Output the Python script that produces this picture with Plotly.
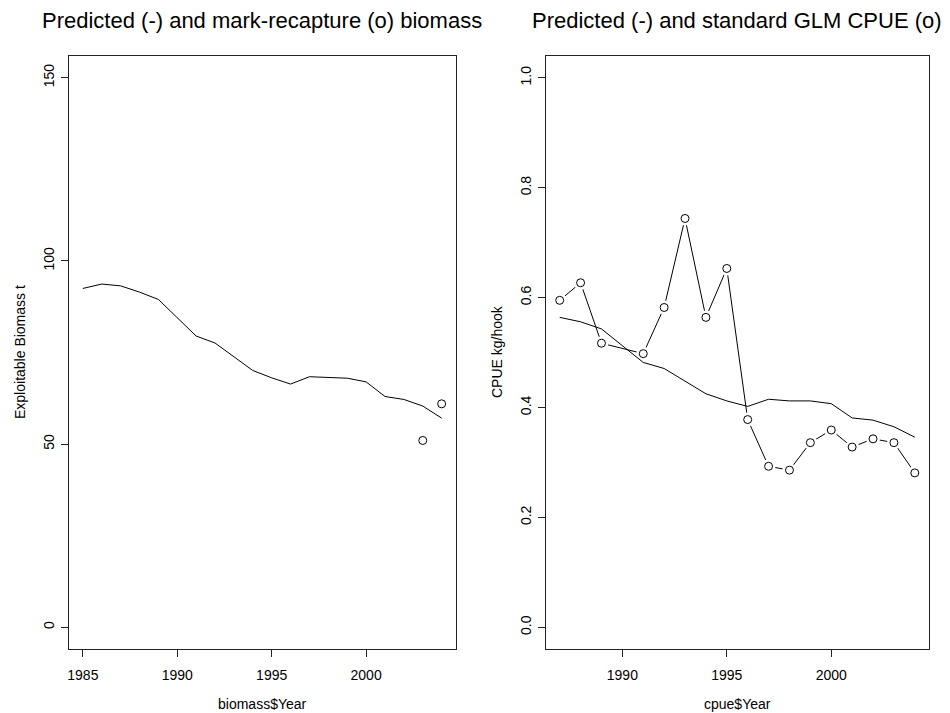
import plotly.graph_objects as go

# ---- data ----
bio_years = list(range(1985, 2005))
bio_pred = [92.5, 93.7, 93.2, 91.5, 89.5, 84.5, 79.5, 77.6, 73.8, 70.1,
            68.1, 66.4, 68.4, 68.1, 68.0, 67.0, 63.0, 62.2, 60.4, 57.1]
mr_years = [2003, 2004]
mr_bio = [51.0, 61.0]

cpue_years = list(range(1987, 2005))
cpue_pred = [0.564, 0.556, 0.543, 0.512, 0.482, 0.471, 0.448, 0.425, 0.412,
             0.402, 0.415, 0.412, 0.412, 0.407, 0.381, 0.377, 0.365, 0.346]
glm_years = [1987, 1988, 1989, 1991, 1992, 1993, 1994, 1995, 1996, 1997,
             1998, 1999, 2000, 2001, 2002, 2003, 2004]
glm_cpue = [0.595, 0.627, 0.517, 0.498, 0.582, 0.744, 0.564, 0.653, 0.378,
            0.293, 0.286, 0.336, 0.359, 0.328, 0.343, 0.336, 0.281]

bio_xticks = [1985, 1990, 1995, 2000]
bio_yticks = [0, 50, 100, 150]
cpue_xticks = [1990, 1995, 2000]
cpue_yticks = [0.0, 0.2, 0.4, 0.6, 0.8, 1.0]
cpue_yticklabels = ["0.0", "0.2", "0.4", "0.6", "0.8", "1.0"]

FONT = "Liberation Sans, Arial, Helvetica, sans-serif"
W, H = 950, 713
L0, L1 = 68.5, 456.0
R0, R1 = 545.5, 929.0

fig = go.Figure()

# left panel
fig.add_trace(go.Scatter(x=bio_years, y=bio_pred, mode="lines",
                         line=dict(color="black", width=1),
                         xaxis="x", yaxis="y", showlegend=False))
fig.add_trace(go.Scatter(x=mr_years, y=mr_bio, mode="markers",
                         marker=dict(symbol="circle-open", size=8,
                                     color="black", line=dict(width=1)),
                         xaxis="x", yaxis="y", showlegend=False))

# right panel
fig.add_trace(go.Scatter(x=glm_years, y=glm_cpue, mode="lines",
                         line=dict(color="black", width=1),
                         xaxis="x2", yaxis="y2", showlegend=False))
fig.add_trace(go.Scatter(x=glm_years, y=glm_cpue, mode="markers",
                         marker=dict(symbol="circle", size=14, color="white",
                                     line=dict(width=0)),
                         xaxis="x2", yaxis="y2", showlegend=False))
fig.add_trace(go.Scatter(x=cpue_years, y=cpue_pred, mode="lines",
                         line=dict(color="black", width=1),
                         xaxis="x2", yaxis="y2", showlegend=False))
fig.add_trace(go.Scatter(x=glm_years, y=glm_cpue, mode="markers",
                         marker=dict(symbol="circle-open", size=8,
                                     color="black", line=dict(width=1)),
                         xaxis="x2", yaxis="y2", showlegend=False))

ydom = [(H - 649.3) / H, (H - 55.8) / H]
axis_common = dict(showline=True, mirror=True, linecolor="#222", linewidth=1,
                   ticks="outside", ticklen=7, tickcolor="#222",
                   showgrid=False, zeroline=False,
                   tickfont=dict(family=FONT, size=14, color="black"))

fig.update_layout(
    width=W, height=H,
    margin=dict(l=0, r=0, t=0, b=0),
    paper_bgcolor="white", plot_bgcolor="white",
    font=dict(family=FONT, color="black"),
    xaxis=dict(domain=[L0 / W, L1 / W], range=[1984.24, 2004.76],
               tickvals=bio_xticks, anchor="y", ticklabelstandoff=6, **axis_common),
    yaxis=dict(domain=ydom, range=[-6, 156], tickvals=bio_yticks,
               tickangle=-90, anchor="x", ticklabelstandoff=1, **axis_common),
    xaxis2=dict(domain=[R0 / W, R1 / W], range=[1986.32, 2004.68],
                tickvals=cpue_xticks, anchor="y2", ticklabelstandoff=6, **axis_common),
    yaxis2=dict(domain=ydom, range=[-0.04, 1.04], tickvals=cpue_yticks,
                ticktext=cpue_yticklabels, tickangle=-90, anchor="x2",
                ticklabelstandoff=1, **axis_common),
)

def ann(text, x, y, size, angle=0):
    fig.add_annotation(text=text, x=x / W, y=1 - y / H, xref="paper", yref="paper",
                       showarrow=False, xanchor="center", yanchor="middle",
                       textangle=angle, font=dict(family=FONT, size=size, color="black"))

ann("Predicted (-) and mark-recapture (o) biomass", (L0 + L1) / 2, 20, 22)
ann("Predicted (-) and standard GLM CPUE (o)", (R0 + R1) / 2, 20, 22)
ann("biomass$Year", (L0 + L1) / 2, 704, 14)
ann("cpue$Year", (R0 + R1) / 2, 704, 14)
ann("Exploitable Biomass t", 20, 352, 14, -90)
ann("CPUE kg/hook", 497, 352, 14, -90)

fig.write_html("out.html")
